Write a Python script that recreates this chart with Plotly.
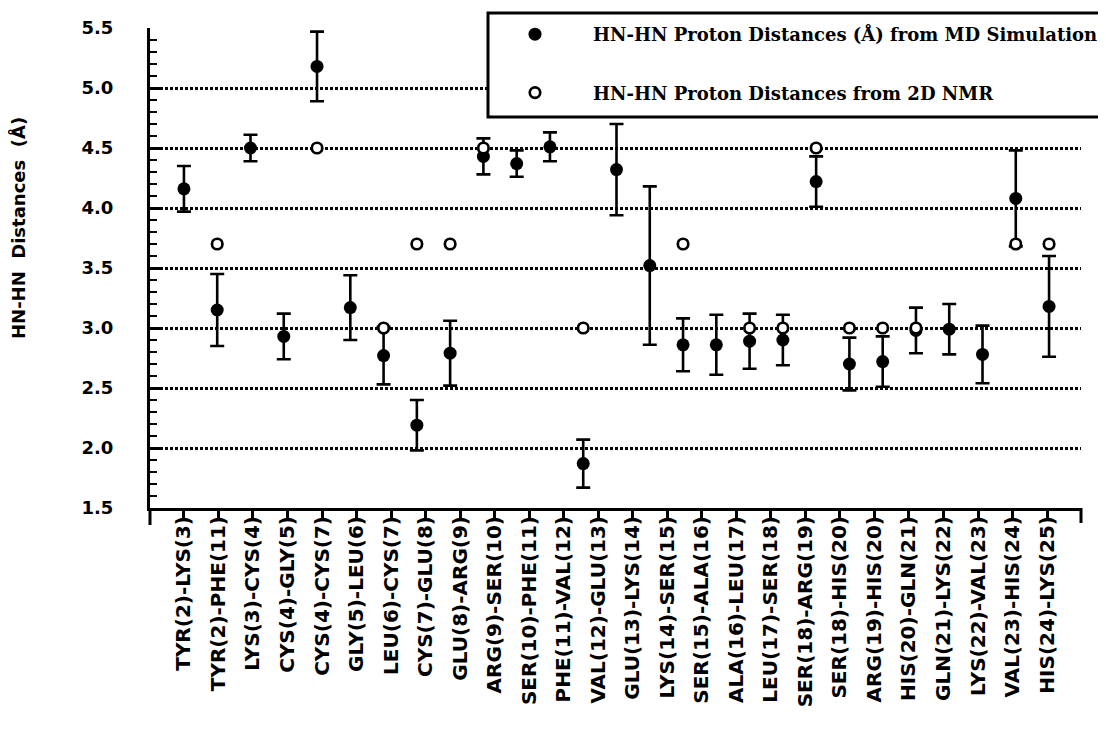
import numpy as np
import plotly.graph_objects as go

# ---- data ----
pair_labels = [
    "TYR(2)-LYS(3)", "TYR(2)-PHE(11)", "LYS(3)-CYS(4)", "CYS(4)-GLY(5)",
    "CYS(4)-CYS(7)", "GLY(5)-LEU(6)", "LEU(6)-CYS(7)", "CYS(7)-GLU(8)",
    "GLU(8)-ARG(9)", "ARG(9)-SER(10)", "SER(10)-PHE(11)", "PHE(11)-VAL(12)",
    "VAL(12)-GLU(13)", "GLU(13)-LYS(14)", "LYS(14)-SER(15)", "SER(15)-ALA(16)",
    "ALA(16)-LEU(17)", "LEU(17)-SER(18)", "SER(18)-ARG(19)", "SER(18)-HIS(20)",
    "ARG(19)-HIS(20)", "HIS(20)-GLN(21)", "GLN(21)-LYS(22)", "LYS(22)-VAL(23)",
    "VAL(23)-HIS(24)", "HIS(24)-LYS(25)",
]

# measurement slots as plotted in the original figure (27 plotted points)
md_mean = [4.16, 3.15, 4.50, 2.93, 5.18, 3.17, 2.77, 2.19, 2.79, 4.43,
           4.37, 4.51, 1.87, 4.32, 3.52, 2.86, 2.86, 2.89, 2.90, 4.22,
           2.70, 2.72, 2.98, 2.99, 2.78, 4.08, 3.18]
md_err = [0.19, 0.30, 0.11, 0.19, 0.29, 0.27, 0.24, 0.21, 0.27, 0.15,
          0.11, 0.12, 0.20, 0.38, 0.66, 0.22, 0.25, 0.23, 0.21, 0.21,
          0.22, 0.21, 0.19, 0.21, 0.24, 0.40, 0.42]
nmr_dist = [None, 3.7, None, None, 4.5, None, 3.0, 3.7, 3.7, 4.5,
            None, None, 3.0, None, None, 3.7, None, 3.0, 3.0, 4.5,
            3.0, 3.0, 3.0, None, None, 3.7, 3.7]

y_ticks = [1.5, 2.0, 2.5, 3.0, 3.5, 4.0, 4.5, 5.0, 5.5]

# ---- layout helpers ----
slot = list(range(len(md_mean)))
label_pos = np.linspace(0, 25.94, len(pair_labels))  # labels are spaced slightly wider than the points

# the page body adds an 8px offset, so figure coords = page coords - 8
OFF = 8
FIG_W, FIG_H = 1090, 730
ML, MT = 150 - OFF, 28 - OFF
PLOT_R, PLOT_B = 1081 - OFF, 508 - OFF
MR, MB = FIG_W - PLOT_R, FIG_H - PLOT_B
PW, PH = PLOT_R - ML, PLOT_B - MT


def px_x(page_x):
    return (page_x - OFF - ML) / PW


def px_y(page_y):
    return (PLOT_B - (page_y - OFF)) / PH


fig = go.Figure()

fig.add_trace(go.Scatter(
    x=slot, y=md_mean, mode="markers",
    name="HN-HN Proton Distances (Å) from MD Simulation",
    legendgroup="md",
    marker=dict(color="black", size=13, line=dict(width=0)),
    error_y=dict(type="data", array=md_err, visible=True,
                 color="black", thickness=2.6, width=7),
    cliponaxis=False,
))

fig.add_trace(go.Scatter(
    x=slot, y=nmr_dist, mode="markers",
    name="HN-HN Proton Distances from 2D NMR",
    legendgroup="nmr",
    marker=dict(color="white", size=10.5, line=dict(color="black", width=2.7)),
    cliponaxis=False,
))

axis_font = dict(family="DejaVu Sans", size=18, color="black", weight="bold")

fig.update_layout(
    width=FIG_W, height=FIG_H,
    margin=dict(l=ML, r=MR, t=MT, b=MB, autoexpand=False),
    paper_bgcolor="white", plot_bgcolor="white",
    showlegend=True,
    legend=dict(
        x=px_x(477), y=px_y(16), xanchor="left", yanchor="top",
        bgcolor="rgba(0,0,0,0)", borderwidth=0,
        tracegroupgap=32, itemwidth=106,
        font=dict(family="DejaVu Serif", size=18, color="black", weight="bold"),
    ),
    xaxis=dict(
        range=[-1.02, 26.96],
        tickmode="array", tickvals=label_pos, ticktext=pair_labels,
        tickangle=-90,
        tickfont=dict(family="DejaVu Sans", size=20, color="black", weight="bold"),
        ticks="outside", ticklen=9, tickwidth=2.5, tickcolor="black",
        ticklabelstandoff=-12,
        showline=True, linewidth=3, linecolor="black",
        showgrid=False, zeroline=False,
    ),
    yaxis=dict(
        range=[1.5, 5.5],
        tickmode="array", tickvals=y_ticks,
        ticktext=[f"{v:.1f}" for v in y_ticks],
        tickfont=axis_font,
        ticks="inside", ticklen=12, tickwidth=2.5, tickcolor="black",
        ticklabelstandoff=30,
        minor=dict(dtick=0.1, ticks="inside", ticklen=7, tickwidth=2, tickcolor="black", showgrid=False),
        showline=True, linewidth=3, linecolor="black",
        showgrid=True, gridcolor="black", gridwidth=2.6, griddash="2.5px,2.5px",
        zeroline=False,
    ),
    annotations=[
        dict(text="HN-HN\u00a0 Distances\u00a0 (Å)", textangle=-90,
             xref="paper", yref="paper", x=px_x(18), y=px_y(228),
             xanchor="center", yanchor="middle", showarrow=False,
             font=dict(family="DejaVu Sans", size=18, color="black", weight="bold")),
    ],
    shapes=[
        # legend frame
        dict(type="rect", xref="paper", yref="paper",
             x0=px_x(488), x1=px_x(1125), y0=px_y(117), y1=px_y(13),
             line=dict(color="black", width=3), fillcolor="white", layer="above"),
        # y-axis stub below the x-axis
        dict(type="line", xref="paper", yref="paper",
             x0=0, x1=0, y0=0, y1=px_y(525),
             line=dict(color="black", width=3)),
        # right end tick of the x-axis
        dict(type="line", xref="paper", yref="paper",
             x0=1, x1=1, y0=0, y1=px_y(523),
             line=dict(color="black", width=3)),
    ],
)

fig.write_html("out.html")
